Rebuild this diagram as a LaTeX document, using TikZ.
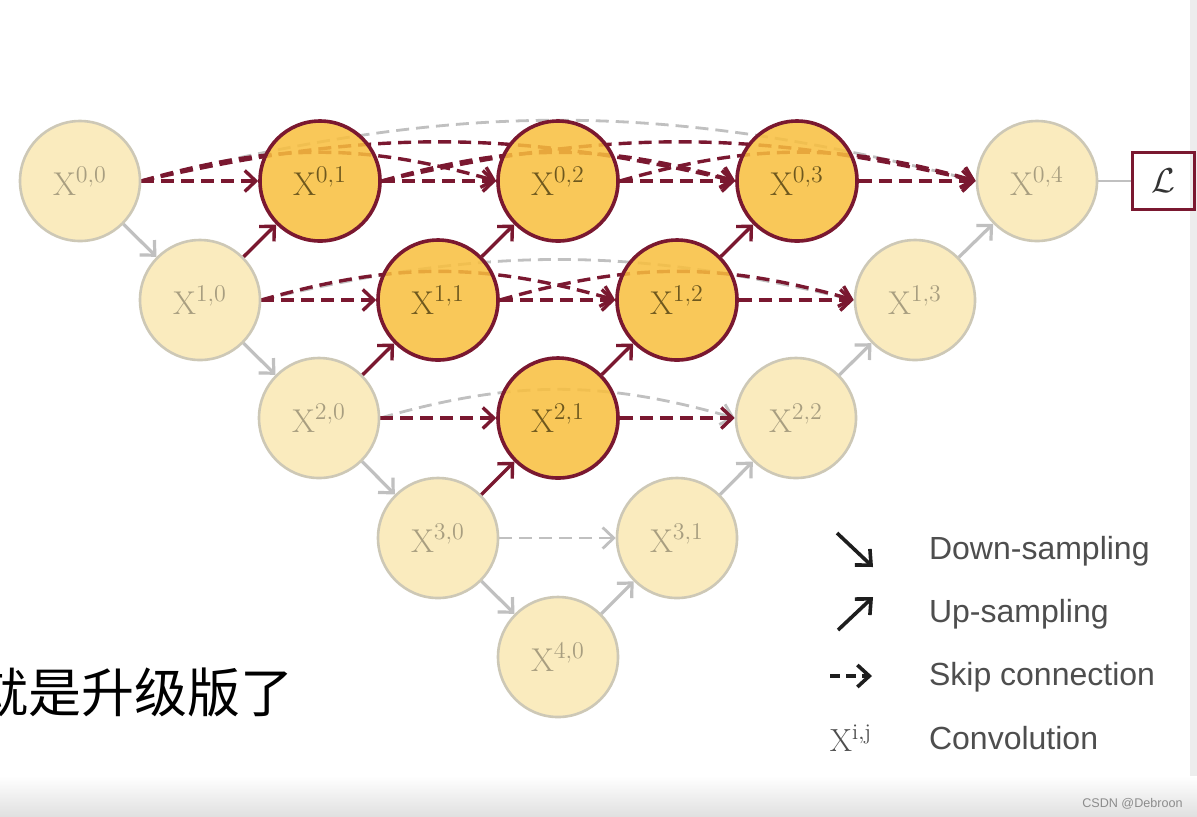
\documentclass[tikz,border=0pt]{standalone}
\usepackage{fontspec}
\setsansfont{Liberation Sans}
\newfontfamily\cjk{Noto Sans CJK SC}
\usetikzlibrary{arrows.meta}
\definecolor{lightfill}{RGB}{250,235,190}
\definecolor{lightdraw}{RGB}{205,200,182}
\definecolor{lighttext}{RGB}{168,158,128}
\definecolor{darkfill}{RGB}{249,191,62}
\definecolor{maroon}{RGB}{122,24,48}
\definecolor{darktext}{RGB}{110,88,30}
\definecolor{grayline}{RGB}{192,192,192}
\definecolor{legendtext}{RGB}{78,78,78}
\definecolor{legendarrow}{RGB}{30,30,30}
\pgfdeclarelayer{bg}
\pgfdeclarelayer{edges}
\pgfsetlayers{bg,edges,main}
\begin{document}
\begin{tikzpicture}[x=0.5pt,y=-0.5pt,
  conv/.style={circle, minimum size=60pt, inner sep=0pt, font=\fontsize{16.5}{19}\selectfont},
  lightnode/.style={conv, fill=lightfill, draw=lightdraw, line width=1.3pt, text=lighttext},
  darknode/.style={conv, fill=darkfill, fill opacity=0.86, text opacity=1, draw opacity=1, draw=maroon, line width=1.8pt, text=darktext},
  tipbarb/.style={-{Straight Barb[length=5.5pt,width=10.5pt]}},
  downg/.style={draw=grayline, line width=1.6pt, tipbarb},
  upm/.style={draw=maroon, line width=1.7pt, tipbarb},
  upg/.style={draw=grayline, line width=1.6pt, tipbarb},
  skipm/.style={draw=maroon, line width=1.7pt, dash pattern=on 6.5pt off 3.5pt, tipbarb},
  skipg/.style={draw=grayline, line width=1.4pt, dash pattern=on 6.5pt off 3.5pt, tipbarb},
  legarrow/.style={draw=legendarrow, line width=1.8pt, -{Straight Barb[length=6pt,width=11pt]}},
  legtext/.style={anchor=base west, text=legendtext, font=\sffamily\fontsize{16}{19}\selectfont}
]
\useasboundingbox (0,0) rectangle (1197,816);
\clip (0,0) rectangle (1197,816);
\begin{pgfonlayer}{bg}
  \fill[white] (0,0) rectangle (1197,816);
  \shade[top color=white, bottom color=black!12] (0,776) rectangle (1197,816);
  \fill[black!7] (1190,0) rectangle (1197,776);
\end{pgfonlayer}

% nodes
\node[lightnode] (x00) at (80,181) {$\mathrm{X}^{0,0}$};
\node[darknode]  (x01) at (320,181) {$\mathrm{X}^{0,1}$};
\node[darknode]  (x02) at (558,181) {$\mathrm{X}^{0,2}$};
\node[darknode]  (x03) at (797,181) {$\mathrm{X}^{0,3}$};
\node[lightnode] (x04) at (1037,181) {$\mathrm{X}^{0,4}$};
\node[lightnode] (x10) at (200,300) {$\mathrm{X}^{1,0}$};
\node[darknode]  (x11) at (438,300) {$\mathrm{X}^{1,1}$};
\node[darknode]  (x12) at (677,300) {$\mathrm{X}^{1,2}$};
\node[lightnode] (x13) at (915,300) {$\mathrm{X}^{1,3}$};
\node[lightnode] (x20) at (319,418) {$\mathrm{X}^{2,0}$};
\node[darknode]  (x21) at (558,418) {$\mathrm{X}^{2,1}$};
\node[lightnode] (x22) at (796,418) {$\mathrm{X}^{2,2}$};
\node[lightnode] (x30) at (438,538) {$\mathrm{X}^{3,0}$};
\node[lightnode] (x31) at (677,538) {$\mathrm{X}^{3,1}$};
\node[lightnode] (x40) at (558,657) {$\mathrm{X}^{4,0}$};
\node[draw=maroon, line width=1.5pt, minimum width=31pt, minimum height=28.5pt, inner sep=0pt,
      font=\fontsize{17}{20}\selectfont, text=black!80] (loss) at (1163,181) {$\mathcal{L}$};

\begin{pgfonlayer}{edges}
  % gray dense skips
  \draw[skipg] (x00.east) to[bend left=14.4] (x04.west);
  \draw[skipg] (x10.east) to[bend left=13.5] (x13.west);
  \draw[skipg] (x20.east) to[bend left=16] (x22.west);
  \draw[skipg] (x30) -- (x31);
  % maroon dense skips
  \draw[skipm] (x00.east) to[bend left=13] (x03.west);
  \draw[skipm] (x01.east) to[bend left=13] (x04.west);
  \draw[skipm] (x00.east) to[bend left=16] (x02.west);
  \draw[skipm] (x01.east) to[bend left=16] (x03.west);
  \draw[skipm] (x02.east) to[bend left=16] (x04.west);
  \draw[skipm] (x10.east) to[bend left=16] (x12.west);
  \draw[skipm] (x11.east) to[bend left=16] (x13.west);
  % straight skips
  \draw[skipm] (x00) -- (x01);
  \draw[skipm] (x01) -- (x02);
  \draw[skipm] (x02) -- (x03);
  \draw[skipm] (x03) -- (x04);
  \draw[skipm] (x10) -- (x11);
  \draw[skipm] (x11) -- (x12);
  \draw[skipm] (x12) -- (x13);
  \draw[skipm] (x20) -- (x21);
  \draw[skipm] (x21) -- (x22);
  % down-sampling
  \draw[downg] (x00) -- (x10);
  \draw[downg] (x10) -- (x20);
  \draw[downg] (x20) -- (x30);
  \draw[downg] (x30) -- (x40);
  % up-sampling
  \draw[upm] (x10) -- (x01);
  \draw[upm] (x20) -- (x11);
  \draw[upm] (x11) -- (x02);
  \draw[upm] (x30) -- (x21);
  \draw[upm] (x21) -- (x12);
  \draw[upm] (x12) -- (x03);
  \draw[upg] (x40) -- (x31);
  \draw[upg] (x31) -- (x22);
  \draw[upg] (x22) -- (x13);
  \draw[upg] (x13) -- (x04);
  \draw[draw=grayline, line width=1.3pt] (x04) -- (loss);
\end{pgfonlayer}

% legend
\coordinate (ld1) at (837,533);
\coordinate (ld2) at (873,567);
\coordinate (lu1) at (838,630);
\coordinate (lu2) at (873,597);
\coordinate (ls1) at (830,676);
\coordinate (ls2) at (872,676);
\draw[legarrow] (ld1) -- (ld2);
\draw[legarrow] (lu1) -- (lu2);
\draw[legarrow, dash pattern=on 5pt off 3pt] (ls1) -- (ls2);
\node[text=legendtext, font=\fontsize{16}{19}\selectfont] (lx) at (851,738) {$\mathrm{X}^{\mathrm{i,j}}$};
\node[legtext] (t1) at (922,559) {Down-sampling};
\node[legtext] (t2) at (922,622) {Up-sampling};
\node[legtext] (t3) at (922,685) {Skip connection};
\node[legtext] (t4) at (922,749) {Convolution};

% caption text (cut at the left edge, as in the screenshot)
\node[anchor=base east, inner sep=0pt, font=\cjk\fontsize{26.5}{30}\selectfont, text=black] (cn) at (294,712) {就是升级版了};
\node[anchor=base east, inner sep=0pt, font=\sffamily\fontsize{6.3}{8}\selectfont, text=black!45] (wm) at (1183,807) {CSDN @Debroon};
\end{tikzpicture}
\end{document}
